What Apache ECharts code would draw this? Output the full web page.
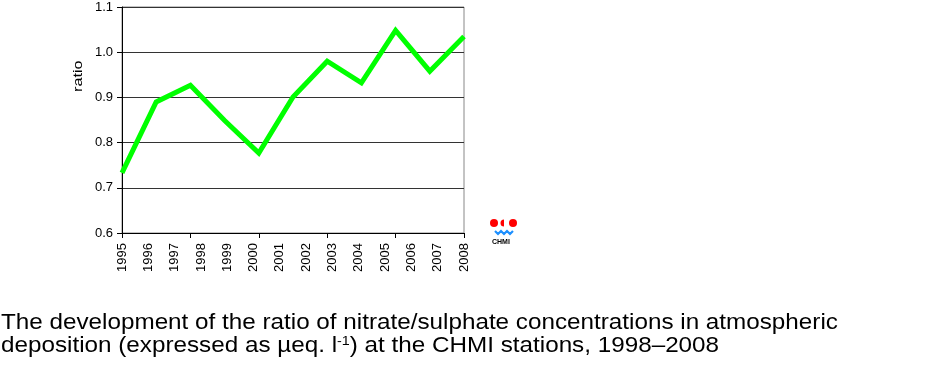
<!DOCTYPE html>
<html>
<head>
<meta charset="utf-8">
<script src="https://cdn.jsdelivr.net/npm/echarts@6/dist/echarts.min.js"></script>
<style>
html,body{margin:0;padding:0;background:#fff;}
#chart{width:950px;height:373px;}
</style>
</head>
<body>
<div id="chart"></div>
<script>
// Data
var seriesYears = ['1998','1999','2000','2001','2002','2003','2004','2005','2006','2007','2008'];
var ratioValues = [0.733, 0.890, 0.927, 0.849, 0.777, 0.901, 0.980, 0.932, 1.048, 0.958, 1.035];
var tickLabels = ['1995','1996','1997','1998','1999','2000','2001','2002','2003','2004','2005','2006','2007','2008'];
var yTicks = {min: 0.6, max: 1.1, interval: 0.1};

var FONT = 'Liberation Sans, Arial, sans-serif';
var chart = echarts.init(document.getElementById('chart'), null, {renderer: 'canvas'});
chart.setOption({
  animation: false,
  backgroundColor: '#fff',
  grid: {left: 122, right: 486, top: 7, bottom: 140, show: true, borderColor: '#888', borderWidth: 1, backgroundColor: 'transparent'},
  xAxis: [{
    type: 'category', data: seriesYears, boundaryGap: false, position: 'bottom',
    axisLine: {show: true, lineStyle: {color: '#000', width: 1}},
    axisTick: {show: true, length: 5, lineStyle: {color: '#000'}},
    axisLabel: {show: false},
    splitLine: {show: false}
  }, {
    type: 'category', data: tickLabels, boundaryGap: false, position: 'bottom', offset: 0,
    axisLine: {show: false}, axisTick: {show: false},
    axisLabel: {show: true, rotate: 90, interval: 0, margin: 10, color: '#000', fontSize: 13, fontFamily: FONT},
    splitLine: {show: false}
  }],
  yAxis: {
    type: 'value', min: yTicks.min, max: yTicks.max, interval: yTicks.interval,
    axisLine: {show: true, lineStyle: {color: '#000', width: 1}},
    axisTick: {show: true, length: 5, lineStyle: {color: '#000'}},
    axisLabel: {color: '#000', fontSize: 13, fontFamily: FONT, margin: 9, formatter: function(v){return v.toFixed(1);}},
    splitLine: {show: true, lineStyle: {color: '#333', width: 1}}
  },
  series: [{
    type: 'line', xAxisIndex: 0, data: ratioValues, showSymbol: false, symbol: 'none',
    lineStyle: {color: '#00ff00', width: 5, join: 'miter'}
  }],
  graphic: [
    {type: 'text', x: 72, y: 92, rotation: Math.PI/2, scaleX: 1.25, style: {text: 'ratio', fill: '#000', font: '13px ' + FONT, textAlign: 'left', textVerticalAlign: 'top'}},
    {type: 'text', x: 1, y: 311, scaleX: 1.102, style: {
      text: 'The development of the ratio of nitrate/sulphate concentrations in atmospheric\ndeposition (expressed as µeq. l{sup|-1}) at the CHMI stations, 1998–2008',
      fill: '#000', font: '22px ' + FONT, lineHeight: 23, textAlign: 'left', textVerticalAlign: 'top',
      rich: {sup: {fontSize: 13, fontFamily: FONT, fill: '#000', padding: [0, 0, 9, 0], lineHeight: 23}}
    }},
    {type: 'circle', shape: {cx: 494, cy: 223, r: 4}, style: {fill: '#ff0000'}},
    {type: 'circle', shape: {cx: 513, cy: 223, r: 4}, style: {fill: '#ff0000'}},
    {type: 'sector', shape: {cx: 504, cy: 223, r: 3.5, startAngle: Math.PI/2, endAngle: Math.PI*1.5}, style: {fill: '#ff0000'}},
    {type: 'polyline', shape: {points: [[495,231],[498,234],[501,231],[504,234],[507,231],[510,234],[513,231]]}, style: {stroke: '#1e90ff', lineWidth: 2.2, fill: null}},
    {type: 'text', left: 492, top: 239, style: {text: 'CHMI', fill: '#000', font: 'bold 7px ' + FONT}}
  ]
});
</script>
</body>
</html>
